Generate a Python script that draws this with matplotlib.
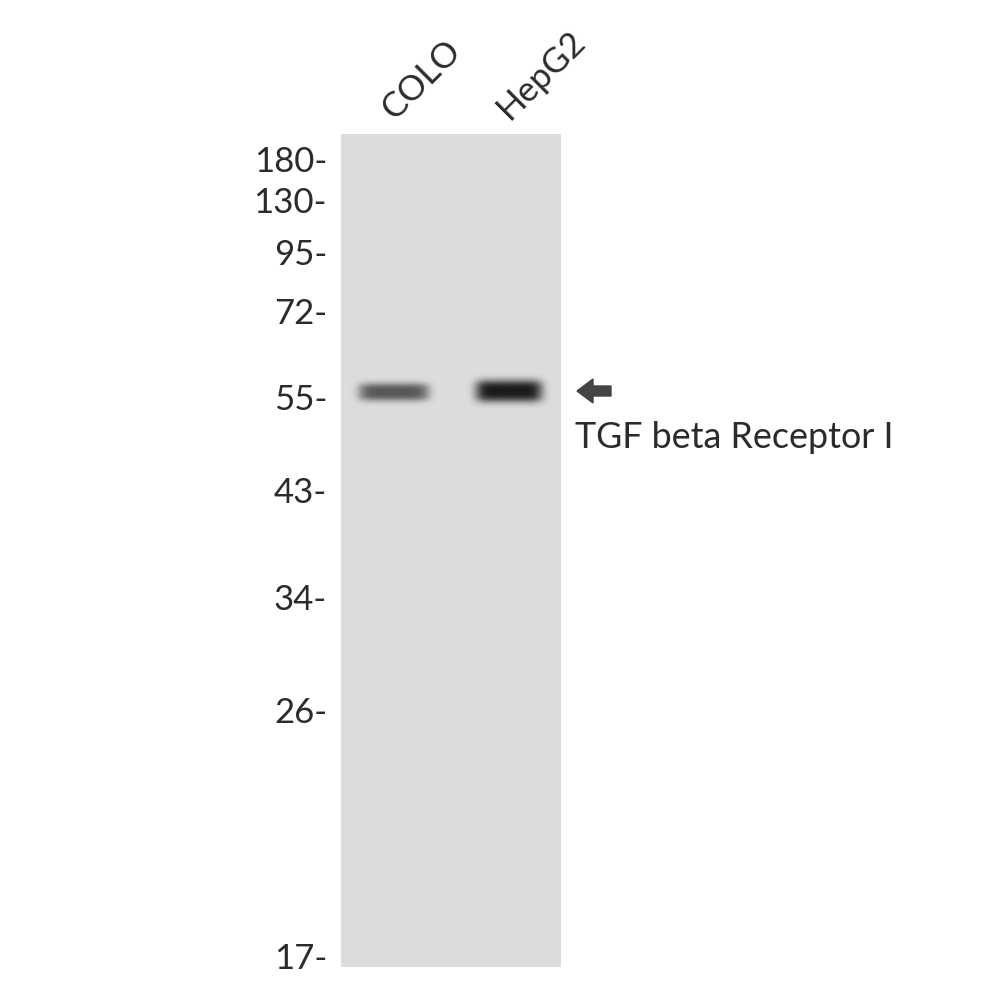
import numpy as np
import matplotlib
matplotlib.use("Agg")
import matplotlib.pyplot as plt
from matplotlib.patches import Polygon

# ---- data ----
lanes = ["COLO", "HepG2"]
lane_centers = [394, 509]          # lane centre (pixel x)
lane_band_width = [68, 66]         # band width (px)
band_y = [392, 391]                # band centre (pixel y, ~55 kDa)
band_strength = [0.60, 0.88]       # band darkness (0..1)
band_thickness = [9.0, 11.0]       # half-height of band (px)

mw_labels = ["180", "130", "95", "72", "55", "43", "34", "26", "17"]
mw_pos = [160, 201, 253, 312, 398, 491, 598, 711, 957]   # migration (pixel y)

target = "TGF beta Receptor I"

# ---- figure ----
fig = plt.figure(figsize=(10, 10), dpi=100)
ax = fig.add_axes([0, 0, 1, 1])
ax.set_xlim(0, 1000)
ax.set_ylim(1000, 0)
ax.axis("off")

FONT = "Lato"
TXT = "#2b2b2b"

# blot membrane
x0, x1, y0, y1 = 341, 561, 134, 967
xs = np.arange(x0, x1) + 0.5
ys = np.arange(y0, y1) + 0.5
X, Y = np.meshgrid(xs, ys)
bg = 0.863
dark = np.zeros(X.shape)
for c, w, by, s, t in zip(lane_centers, lane_band_width, band_y, band_strength, band_thickness):
    u = (X - c) / (w / 2)
    xprof = np.exp(-np.abs(u) ** 6)
    edge = 1 + 0.25 * np.clip(np.abs(u), 0, 1) ** 4   # slightly darker ends
    yprof = np.exp(-np.abs((Y - by) / t) ** 3)
    dark = np.maximum(dark, np.clip(s * edge, 0, 0.95) * xprof * yprof)
img = bg * (1 - dark)
ax.imshow(img, cmap="gray", vmin=0, vmax=1, extent=(x0, x1, y1, y0),
          interpolation="bilinear", zorder=1)

# molecular weight markers
for lab, p in zip(mw_labels, mw_pos):
    ax.text(327, p + 2, lab + "-", ha="right", va="center", fontsize=25,
            family=FONT, color=TXT)

# lane labels
for lab, c in zip(lanes, lane_centers):
    ax.text(c + 5, 125, lab, rotation=45, ha="left", va="bottom",
            rotation_mode="anchor", fontsize=25, family=FONT, color=TXT)

# arrow
ay = 391
arrow = Polygon([[577, ay], [593, ay - 12], [593, ay - 5], [611, ay - 5],
                 [611, ay + 5], [593, ay + 5], [593, ay + 12]],
                closed=True, color="#444444", zorder=3)
ax.add_patch(arrow)

ax.text(575, 438, target, ha="left", va="center", fontsize=25.8,
        family=FONT, color=TXT)

fig.savefig("out.png", dpi=100, facecolor="white")
